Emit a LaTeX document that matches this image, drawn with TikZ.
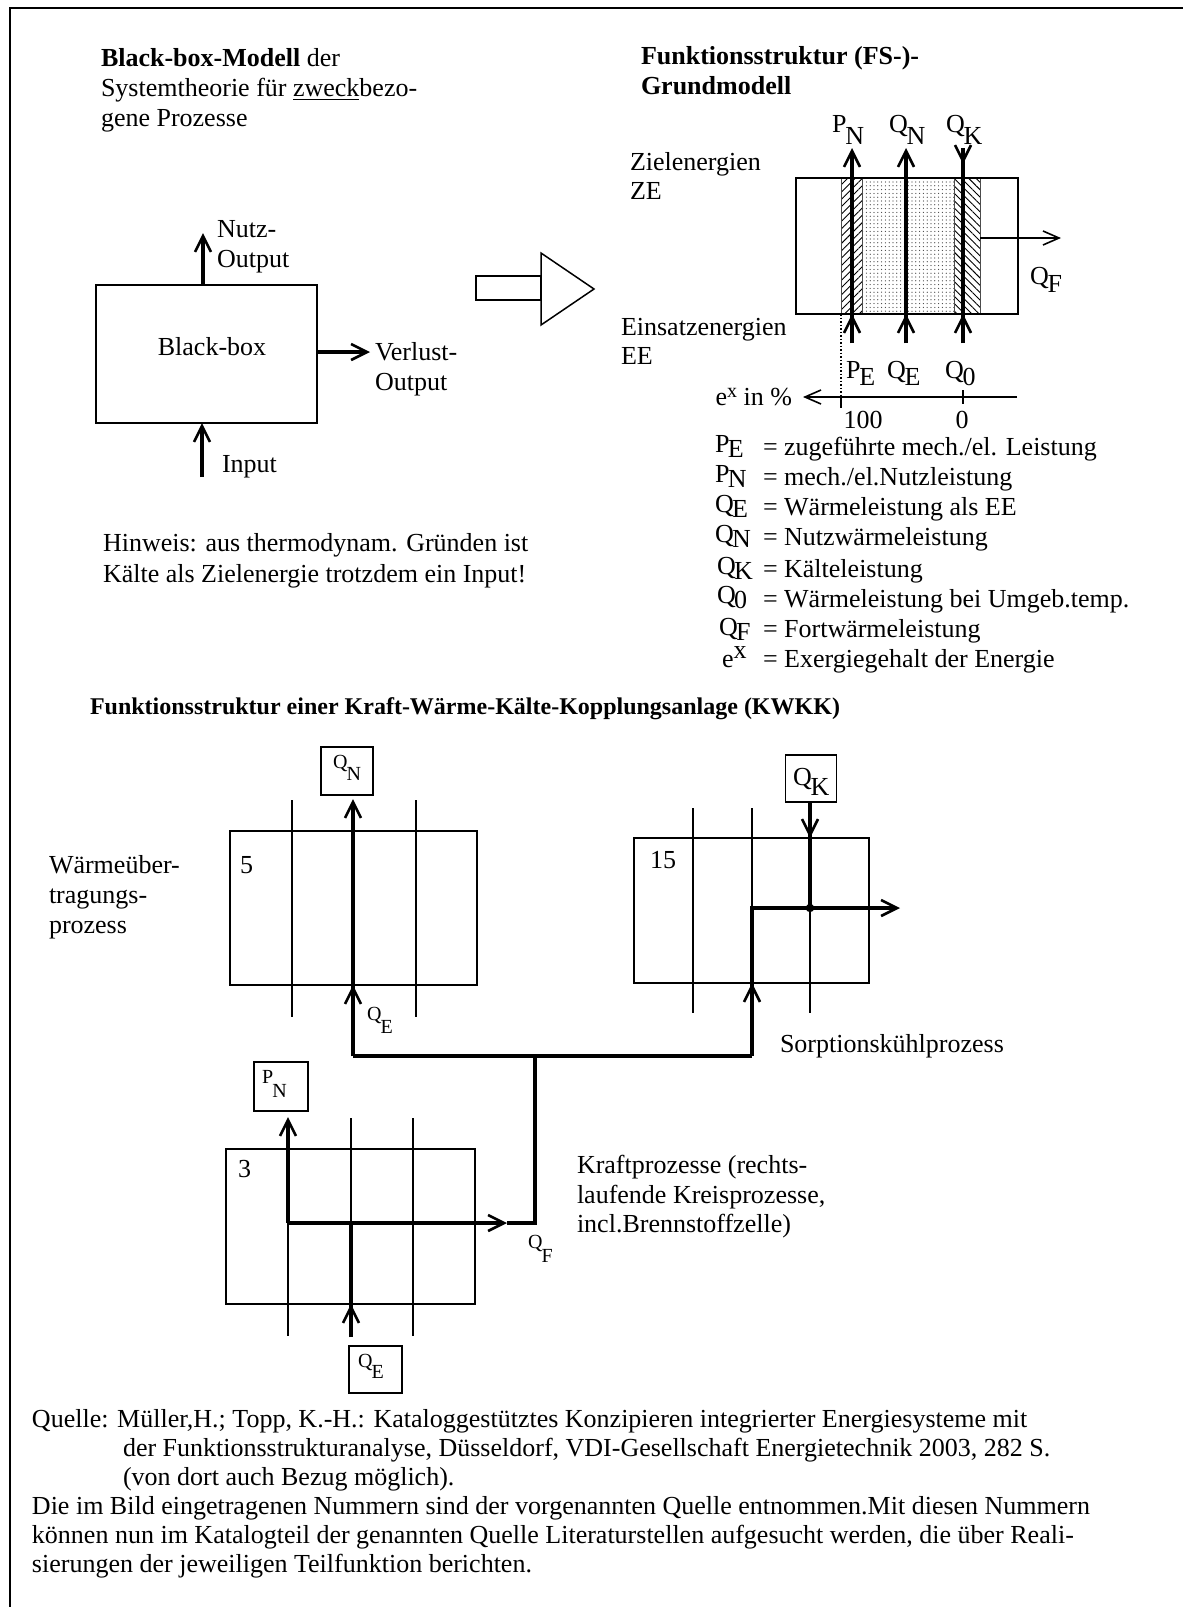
\documentclass[tikz,border=0pt]{standalone}
\usepackage{fontspec}
\setmainfont{Liberation Serif}
\usetikzlibrary{arrows.meta,patterns.meta}
\newcommand\lsb[3][5.5pt]{#2\kern-0.04em\raisebox{-#1}{#3}}
\newcommand\sy[2]{\raisebox{1.5pt}{#1}\kern-0.06em\raisebox{-1.2pt}{#2}}
\begin{document}
\begin{tikzpicture}[x=0.5pt,y=-0.5pt,
  every node/.style={font=\fontsize{13}{15}\selectfont, inner sep=0pt, outer sep=0pt},
  txt/.style={anchor=base west},
  small/.style={font=\fontsize{10}{12}\selectfont},
  thn/.style={line width=0.75pt},
  thk/.style={line width=1.8pt},
  tipT/.style={-{Straight Barb[length=8pt,width=8pt,line width=1.3pt]}},
  tipt/.style={-{Straight Barb[length=8pt,width=7pt,line width=0.8pt]}},
  bx/.style={draw, thn},
]
\useasboundingbox (0,0) rectangle (1183,1607);
% frame
\draw[line width=1.1pt] (10,1607) -- (10,8) -- (1183,8);

% ---------------- headings
\node[txt] (h1) at (101,66) {\textbf{Black-box-Modell} der};
\node[txt] (h2) at (101,96) {Systemtheorie für \underline{zweck}bezo-};
\node[txt] (h3) at (101,126) {gene Prozesse};
\node[txt] (h4) at (641,64) {\textbf{Funktionsstruktur (FS-)-}};
\node[txt] (h5) at (641,94) {\textbf{Grundmodell}};

% ---------------- black box
\node[bx, minimum width=110.5pt, minimum height=69pt] (bb) at (206.5,354) {};
\node[anchor=base] (bbt) at (212,355) {Black-box};
\coordinate (nutz) at (203,233);
\coordinate (verl) at (370,352);
\coordinate (inp) at (202,477);
\draw[thk,tipT] (bb.north -| nutz) -- (nutz);
\draw[thk,tipT] (bb.east |- verl) -- (verl);
\draw[thk,tipT] (inp) -- (bb.south -| inp);
\node[txt] (n1) at (217,237) {Nutz-};
\node[txt] (n2) at (217,267) {Output};
\node[txt] (v1) at (375,360) {Verlust-};
\node[txt] (v2) at (375,390) {Output};
\node[txt] (in) at (222,472) {Input};
\node[txt] (hw1) at (103,551) {Hinweis: aus thermodynam. Gründen ist};
\node[txt] (hw2) at (103,582) {Kälte als Zielenergie trotzdem ein Input!};

% hollow arrow
\draw[thn] (476,276) rectangle (541,300);
\draw[thn,fill=white] (541,253) -- (594,289) -- (541,325) -- cycle;

% ---------------- FS model
\fill[pattern={Lines[angle=45,distance=2.6pt,line width=0.45pt]}] (841,178) rectangle (862,314);
\fill[pattern={Dots[distance=1.9pt,radius=0.32pt]},pattern color=black!75] (862,178) rectangle (954,314);
\fill[pattern={Lines[angle=-45,distance=2.6pt,line width=0.45pt]}] (954,178) rectangle (980,314);
\draw[line width=0.35pt, black!70] (862,178) -- (862,314) (954,178) -- (954,314) (980,178) -- (980,314) (841,178) -- (841,314);
\node[bx, minimum width=111pt, minimum height=68pt] (fs) at (907,246) {};

\coordinate (pnT) at (852,148); \coordinate (pnB) at (852,343);
\coordinate (qnT) at (906,148); \coordinate (qnB) at (906,343);
\coordinate (qkT) at (963,148); \coordinate (qkB) at (963,343);
\draw[thk,tipT] (pnB) -- (pnT);
\draw[thk,tipT] (pnB) -- (fs.south -| pnB);
\draw[thk,tipT] (qnB) -- (qnT);
\draw[thk,tipT] (qnB) -- (fs.south -| qnB);
\draw[thk] (qkB) -- (qkT);
\draw[thk,tipT] (qkB) -- (fs.south -| qkB);
\draw[thk,tipT] (qkT) -- (963,164);
\coordinate (qfT) at (1061,238);
\draw[thn,tipt] (980,238) -- (qfT);

\node[txt] (lpn) at (832,132) {\lsb[6pt]{P}{N}};
\node[txt] (lqn) at (889,132) {\lsb[6pt]{Q}{N}};
\node[txt] (lqk) at (946,132) {\lsb[6pt]{Q}{K}};
\node[txt] (lqf) at (1030,284) {\lsb[4pt]{Q}{F}};
\node[txt] (ze1) at (630,170) {Zielenergien};
\node[txt] (ze2) at (630,199) {ZE};
\node[txt] (ee1) at (621,335) {Einsatzenergien};
\node[txt] (ee2) at (621,364) {EE};
\node[txt] (lpe) at (846,378) {\lsb[3.5pt]{P}{E}};
\node[txt] (lqe) at (887,378) {\lsb[3.5pt]{Q}{E}};
\node[txt] (lq0) at (945,378) {\lsb[3.5pt]{Q}{0}};

% axis
\coordinate (axR) at (1017,397); \coordinate (axL) at (803,397);
\draw[thn,tipt] (axR) -- (axL);
\draw[thn] (963,390) -- (963,404);
\draw[thn] (841,397) -- (841,408);
\draw[thn,densely dotted] (fs.south -| 841,0) -- (841,397);
\node[anchor=base east] (exin) at (792,405) {e\raisebox{0.6ex}{\fontsize{10}{12}\selectfont x} in \%};
\node[anchor=base] (l100) at (863,428) {100};
\node[anchor=base] (l0) at (962,428) {0};

% legend
\node[txt] (s1) at (715,455) {\sy{P}{E}};
\node[txt] (s2) at (715,485) {\sy{P}{N}};
\node[txt] (s3) at (715,515) {\sy{Q}{E}};
\node[txt] (s4) at (715,545) {\sy{Q}{N}};
\node[txt] (s5) at (717,577) {\sy{Q}{K}};
\node[txt] (s6) at (717,606) {\sy{Q}{0}};
\node[txt] (s7) at (719,638) {\sy{Q}{F}};
\node[txt] (s8) at (722,667) {e\raisebox{0.7ex}{x}};
\node[txt] (d1) at (763,455) {= zugeführte mech./el. Leistung};
\node[txt] (d2) at (763,485) {= mech./el.Nutzleistung};
\node[txt] (d3) at (763,515) {= Wärmeleistung als EE};
\node[txt] (d4) at (763,545) {= Nutzwärmeleistung};
\node[txt] (d5) at (763,577) {= Kälteleistung};
\node[txt] (d6) at (763,607) {= Wärmeleistung bei Umgeb.temp.};
\node[txt] (d7) at (763,637) {= Fortwärmeleistung};
\node[txt] (d8) at (763,667) {= Exergiegehalt der Energie};

% ---------------- KWKK
\node[txt,font=\fontsize{12}{14}\selectfont] (kt) at (90,714) {\textbf{Funktionsstruktur einer Kraft-Wärme-Kälte-Kopplungsanlage (KWKK)}};

% box 5
\node[bx, minimum width=123.5pt, minimum height=77pt] (b5) at (353.5,908) {};
\draw[thn] (292,800) -- (292,1017) (416,800) -- (416,1017);
\node[txt] (n5) at (240,873) {5};
\node[bx, minimum width=26pt, minimum height=24pt] (qn) at (347,771) {};
\node[txt,small] (qnl) at (333,768) {\lsb[6pt]{Q}{N}};
\coordinate (j1) at (353,1056);
\draw[thk,tipT,shorten >=2pt] (j1) -- (qn.south -| j1);
\draw[thk,tipT] (j1) -- (b5.south -| j1);
\node[txt,small] (qel) at (367,1020) {\lsb[6.5pt]{Q}{E}};
\node[txt] (wu1) at (49,873) {Wärmeüber-};
\node[txt] (wu2) at (49,903) {tragungs-};
\node[txt] (wu3) at (49,933) {prozess};

% box 15
\node[bx, minimum width=117.5pt, minimum height=72.5pt] (b15) at (751.5,910.5) {};
\draw[thn] (693,808) -- (693,1013) (752,808) -- (752,908) (810,908) -- (810,1013);
\node[txt] (n15) at (650,868) {15};
\node[bx, minimum width=25.5pt, minimum height=23.5pt] (qk) at (811,778.5) {};
\node[txt] (qkl) at (793,785) {\lsb[5pt]{Q}{K}};
\coordinate (j2) at (752,1056);
\coordinate (dot) at (810,908);
\coordinate (cold) at (900,908);
\draw[thk] (qk.south -| dot) -- (dot);
\draw[thk,tipT] (qk.south -| dot) -- (b15.north -| dot);
\draw[thk,tipT] (j2) -- (b15.south -| j2);
\draw[thk,tipT] (j2) -- (j2 |- dot) -- (cold);
\fill (dot) circle (2.1pt);
\node[txt] (sk) at (780,1052) {Sorptionskühlprozess};

% connection
\coordinate (j3) at (535,1056);
\coordinate (j4) at (535,1223);
\draw[thk] (j1) -- (j2);
\draw[thk] (j3) -- (j4) -- (507,1223);

% box 3
\node[bx, minimum width=124.5pt, minimum height=77.5pt] (b3) at (350.5,1226.5) {};
\draw[thn] (351,1118) -- (351,1223) (413,1118) -- (413,1336) (288,1223) -- (288,1336);
\node[txt] (n3) at (238,1177) {3};
\node[bx, minimum width=27pt, minimum height=24.5pt] (pn) at (281,1086.5) {};
\node[txt,small] (pnl) at (262,1083) {\lsb[7pt]{P}{N}};
\node[bx, minimum width=26.5pt, minimum height=23.5pt] (qe) at (375.5,1369.5) {};
\node[txt,small] (qebl) at (358,1367) {\lsb[5.5pt]{Q}{E}};
\coordinate (k1) at (288,1223);
\coordinate (k2) at (351,1223);
\coordinate (k3) at (351,1337);
\draw[thk,tipT,shorten >=3pt] (k1) -- (pn.south -| k1);
\draw[thk,tipT] (k1) -- (507,1223);
\draw[thk] (k3) -- (k2);
\draw[thk,tipT] (k3) -- (b3.south -| k3);
\node[txt,small] (qfl) at (528,1248) {\lsb[7pt]{Q}{F}};
\node[txt] (kp1) at (577,1173) {Kraftprozesse (rechts-};
\node[txt] (kp2) at (577,1203) {laufende Kreisprozesse,};
\node[txt] (kp3) at (577,1232) {incl.Brennstoffzelle)};

% ---------------- source text
\node[txt] (q1) at (32,1427) {Quelle: Müller,H.; Topp, K.-H.: Kataloggestütztes Konzipieren integrierter Energiesysteme mit};
\node[txt] (q2) at (123,1456) {der Funktionsstrukturanalyse, Düsseldorf, VDI-Gesellschaft Energietechnik 2003, 282 S.};
\node[txt] (q3) at (123,1485) {(von dort auch Bezug möglich).};
\node[txt] (q4) at (32,1514) {Die im Bild eingetragenen Nummern sind der vorgenannten Quelle entnommen.Mit diesen Nummern};
\node[txt] (q5) at (32,1543) {können nun im Katalogteil der genannten Quelle Literaturstellen aufgesucht werden, die über Reali-};
\node[txt] (q6) at (32,1572) {sierungen der jeweiligen Teilfunktion berichten.};
\end{tikzpicture}
\end{document}
